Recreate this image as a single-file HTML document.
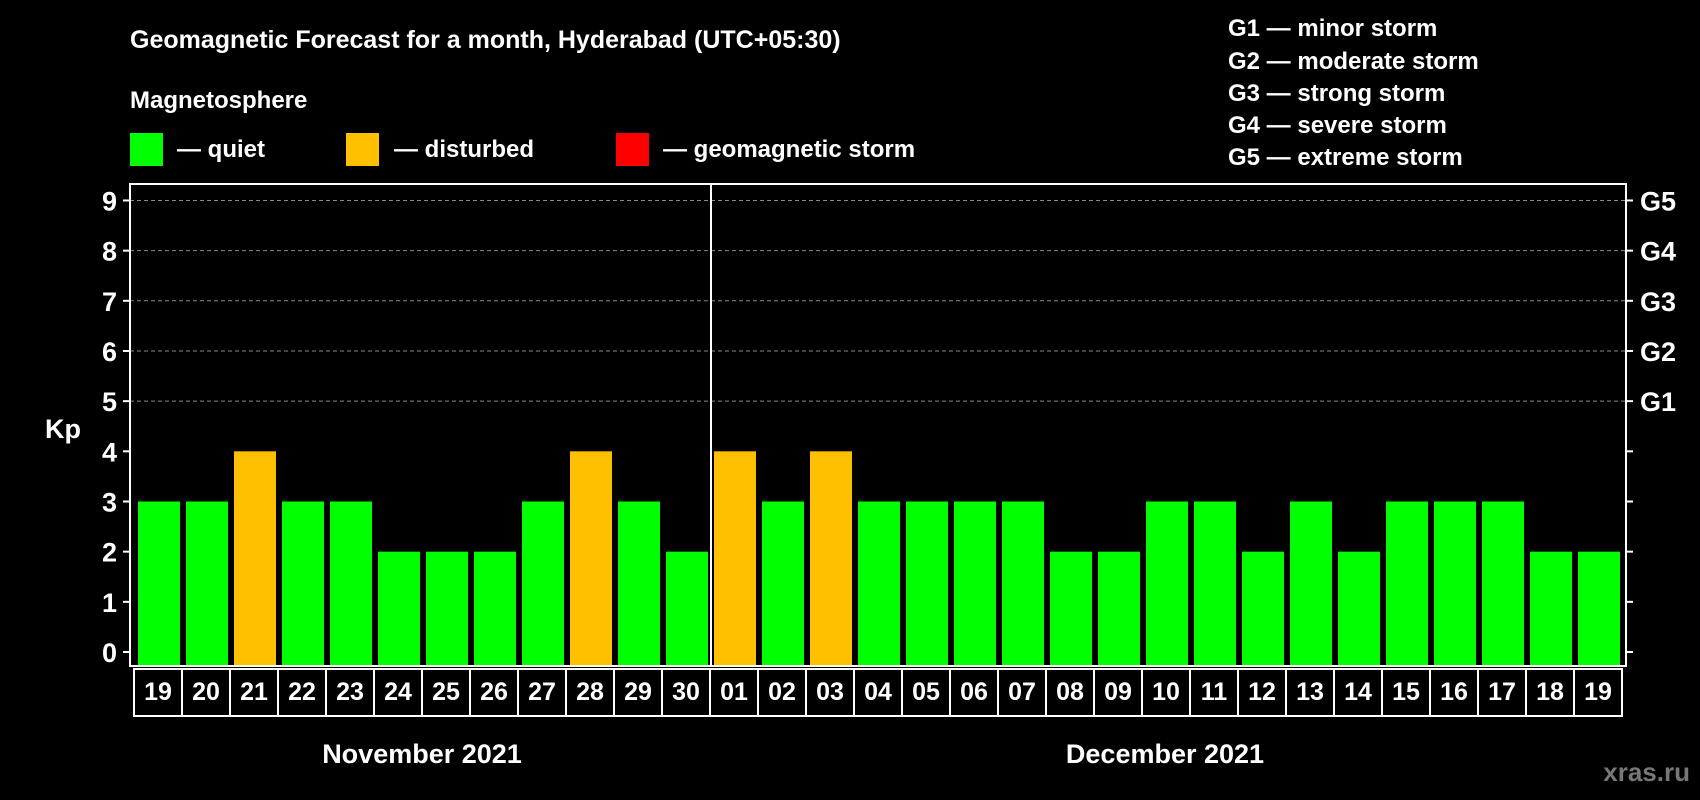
<!DOCTYPE html>
<html><head><meta charset="utf-8"><style>
html,body{margin:0;padding:0;background:#000;width:1700px;height:800px;overflow:hidden}
svg{display:block;font-family:"Liberation Sans",Arial,sans-serif;font-weight:bold}
</style></head><body>
<svg id="chart" width="1700" height="800" xmlns="http://www.w3.org/2000/svg">
<rect width="1700" height="800" fill="#000"/>
<text x="130" y="48" fill="#fff" font-size="25">Geomagnetic Forecast for a month, Hyderabad (UTC+05:30)</text>
<text x="130" y="108" fill="#fff" font-size="24">Magnetosphere</text>
<g><rect x="130" y="133" width="33" height="33" fill="#00ff00"/><text x="177" y="157" fill="#fff" font-size="24">— quiet</text></g>
<g><rect x="346" y="133" width="33" height="33" fill="#ffc000"/><text x="394" y="157" fill="#fff" font-size="24">— disturbed</text></g>
<g><rect x="616" y="133" width="33" height="33" fill="#ff0000"/><text x="663" y="157" fill="#fff" font-size="24">— geomagnetic storm</text></g>
<g fill="#fff" font-size="24">
<text x="1228" y="36">G1 — minor storm</text>
<text x="1228" y="69">G2 — moderate storm</text>
<text x="1228" y="101">G3 — strong storm</text>
<text x="1228" y="133">G4 — severe storm</text>
<text x="1228" y="165">G5 — extreme storm</text>
</g>
<text x="63" y="438" fill="#fff" font-size="27" text-anchor="middle">Kp</text>
<g id="grid"></g>
<g id="bars"></g>
<g id="axes"></g>
<g id="days"></g>
<text x="422" y="763" fill="#fff" font-size="27" text-anchor="middle">November 2021</text>
<text x="1165" y="763" fill="#fff" font-size="27" text-anchor="middle">December 2021</text>
<text x="1690" y="781" fill="#777" font-size="26" text-anchor="end">xras.ru</text>
</svg>
<script>
const dayLabels = ["19","20","21","22","23","24","25","26","27","28","29","30","01","02","03","04","05","06","07","08","09","10","11","12","13","14","15","16","17","18","19"];
const kpValues = [3,3,4,3,3,2,2,2,3,4,3,2,4,3,4,3,3,3,3,2,2,3,3,2,3,2,3,3,3,2,2];
const yTicks = [0,1,2,3,4,5,6,7,8,9];
const gLabels = ["","","","","","G1","G2","G3","G4","G5"];
const NS="http://www.w3.org/2000/svg";
const L=130,R=1626,T=184,B=666,dayX0=134,cellW=48;
const y=v=>652-v*50.17;
const x=i=>dayX0+i*cellW;
function mk(tag,attrs,parent){const e=document.createElementNS(NS,tag);for(const k in attrs)e.setAttribute(k,attrs[k]);parent.appendChild(e);return e;}
const grid=document.getElementById('grid'),bars=document.getElementById('bars'),axes=document.getElementById('axes'),days=document.getElementById('days');
yTicks.forEach((t,i)=>{
  if(t>=5){const g=mk('line',{x1:L,x2:R,y1:y(t),y2:y(t),stroke:'#888','stroke-dasharray':'4,3','stroke-width':1},grid);
  
  }
  const tl=mk('line',{x1:L-7,x2:L,y1:y(t),y2:y(t),stroke:'#fff','stroke-width':2},axes);
  
  
  const tr=mk('line',{x1:R,x2:R+7,y1:y(t),y2:y(t),stroke:'#fff','stroke-width':2},axes);
  
  
  const lb=mk('text',{x:117,y:y(t)+10,fill:'#fff','font-size':27,'text-anchor':'end'},axes);lb.textContent=t;
  
  
  if(gLabels[i]){const gl=mk('text',{x:1640,y:y(t)+10,fill:'#fff','font-size':27},axes);gl.textContent=gLabels[i];
  
  }
});
kpValues.forEach((v,i)=>{
  const c=v>=5?'#ff0000':(v>=4?'#ffc000':'#00ff00');
  const b=mk('rect',{x:x(i)+4,y:y(v),width:42,height:B-y(v)-1,fill:c},bars);
  
  
});
const fr=mk('rect',{x:L,y:T,width:R-L,height:B-T,fill:'none',stroke:'#fff','stroke-width':2},axes);


const dv=mk('line',{x1:x(12)+1,x2:x(12)+1,y1:T,y2:B,stroke:'#fff','stroke-width':2},axes);


dayLabels.forEach((d,i)=>{
  const r=mk('rect',{x:x(i),y:669,width:cellW,height:47,fill:'#000',stroke:'#fff','stroke-width':2},days);
  
  
  const t=mk('text',{x:x(i)+cellW/2,y:700,fill:'#fff','font-size':25,'text-anchor':'middle'},days);t.textContent=d;
  
  
});
</script>
</body></html>
